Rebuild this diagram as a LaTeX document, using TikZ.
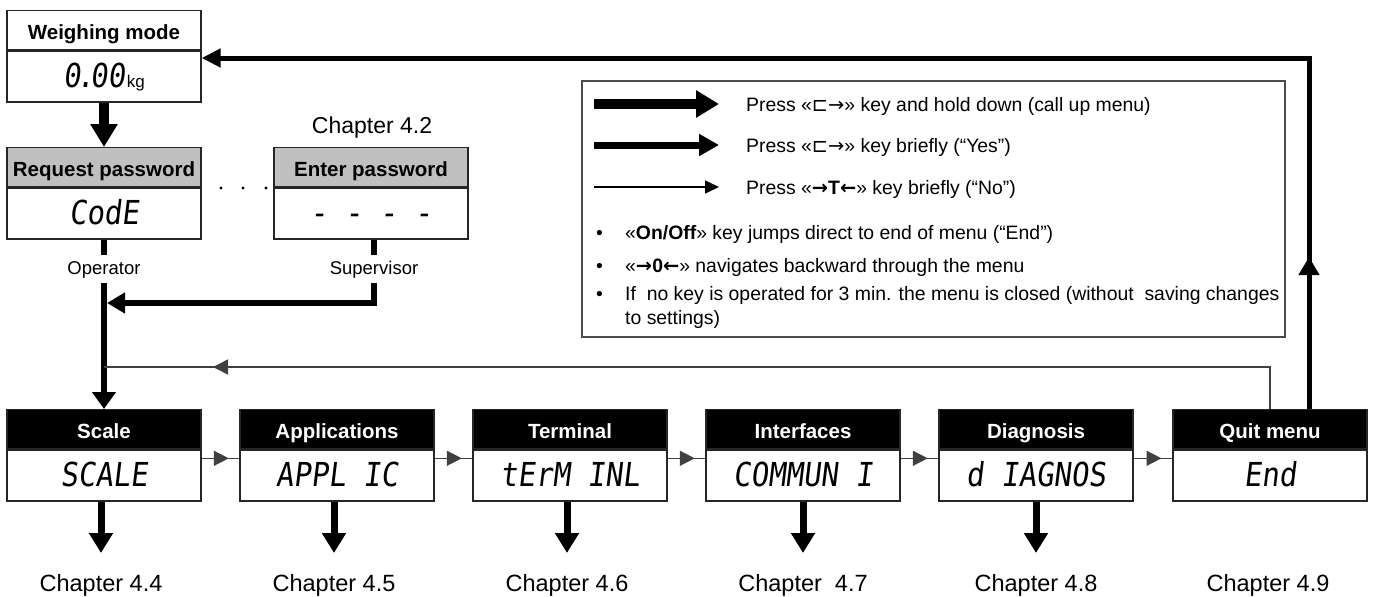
\documentclass[tikz,border=0pt]{standalone}
\usepackage{fontspec}
\setmainfont{Liberation Sans}
\newfontfamily\lcdfont[FakeStretch=0.88,FakeSlant=0.12]{DejaVu Sans Mono}
\newfontfamily\symfont{DejaVu Sans}
\usetikzlibrary{arrows.meta,decorations.markings,calc}
\definecolor{hdrgray}{HTML}{C0C0C0}
\definecolor{linegray}{HTML}{404040}
\tikzset{
 boxline/.style={draw=black!85,line width=1.3pt},
 hdr/.style={boxline,minimum width=194pt,minimum height=39pt,inner sep=0pt,text height=18pt,text depth=0pt,font=\fontsize{20.5}{24}\selectfont\bfseries},
 hdrwhite/.style={hdr,fill=white},
 hdrgrey/.style={hdr,fill=hdrgray},
 hdrblack/.style={hdr,fill=black,text=white},
 disp/.style={boxline,fill=white,minimum width=194pt,minimum height=51pt,inner sep=0pt,text height=23pt,text depth=0pt,font=\lcdfont\fontsize{33}{36}\selectfont},
 lbl/.style={inner xsep=0pt,inner ysep=5pt,text height=14pt,text depth=4pt,font=\fontsize{18.5}{22}\selectfont},
 chap/.style={inner xsep=0pt,inner ysep=21pt,text height=17pt,text depth=5pt,font=\fontsize{23.5}{28}\selectfont},
 heavyline/.style={line width=10.5pt,-{Triangle[length=23pt,width=26pt]}},
 medline/.style={line width=6pt},
 medarrow/.style={line width=6pt,-{Triangle[length=18pt,width=20pt]}},
 chaparrow/.style={line width=7pt,-{Triangle[length=20pt,width=23pt]}},
 thinline/.style={draw=linegray,line width=1.5pt},
 thinhead/.style={postaction={decorate},decoration={markings,mark=at position #1 with {\arrow[linegray]{Triangle[length=15pt,width=15pt]}}}},
 legendbox/.style={draw=black!70,line width=2.2pt,minimum width=703pt,minimum height=256pt,inner sep=0pt},
 legtext/.style={anchor=base west,inner sep=0pt,font=\fontsize{19.4}{23}\selectfont},
}
\begin{document}
\begin{tikzpicture}[x=1pt,y=-1pt]
\useasboundingbox (0,0) rectangle (1374,597);
% weighing mode
\node[hdrwhite,anchor=north] (wmH) at (104,10) {Weighing mode};
\node[disp,anchor=north] (wmD) at (wmH.south) {0{\kern-4pt}.{\kern-4pt}00\kern2pt{\normalfont\fontsize{17}{20}\selectfont kg}};
% password boxes
\node[hdrgrey,anchor=north] (rqH) at (104,147) {Request password};
\node[disp,anchor=north] (rqD) at (rqH.south) {CodE};
\node[hdrgrey,anchor=north] (enH) at (371,147) {Enter password};
\node[disp,anchor=north] (enD) at (enH.south) {- - - -};
\node[anchor=base,inner sep=0pt,font=\fontsize{23}{28}\selectfont] (ch42) at (372,133) {Chapter 4.2};
\fill (221,188) circle (1.6pt) (243,188) circle (1.6pt) (266,188) circle (1.6pt);
\node[lbl,anchor=north] (op) at (104,255) {Operator};
\node[lbl,anchor=north] (sup) at (374,255) {Supervisor};
% bottom boxes
\node[hdrblack,anchor=north] (scH) at (104,409) {Scale};
\node[disp,anchor=north] (scD) at (scH.south) {SCALE};
\node[hdrblack,anchor=north] (apH) at (337,409) {Applications};
\node[disp,anchor=north] (apD) at (apH.south) {APPL IC};
\node[hdrblack,anchor=north] (teH) at (570,409) {Terminal};
\node[disp,anchor=north] (teD) at (teH.south) {tErM INL};
\node[hdrblack,anchor=north] (inH) at (803,409) {Interfaces};
\node[disp,anchor=north] (inD) at (inH.south) {COMMUN I};
\node[hdrblack,anchor=north] (diH) at (1036,409) {Diagnosis};
\node[disp,anchor=north] (diD) at (diH.south) {d IAGNOS};
\node[hdrblack,anchor=north] (quH) at (1270,409) {Quit menu};
\node[disp,anchor=north] (quD) at (quH.south) {End};
% chapter labels
\node[chap,anchor=north] (c44) at (101,553) {Chapter 4.4};
\node[chap,anchor=north] (c45) at (334,553) {Chapter 4.5};
\node[chap,anchor=north] (c46) at (567,553) {Chapter 4.6};
\node[chap,anchor=north] (c47) at (803,553) {Chapter\ \ 4.7};
\node[chap,anchor=north] (c48) at (1036,553) {Chapter 4.8};
\node[chap,anchor=north] (c49) at (1268,553) {Chapter 4.9};
\foreach \a/\b in {scD/c44,apD/c45,teD/c46,inD/c47,diD/c48}
  \draw[chaparrow] (\a.south -| \b.north) -- (\b.north);
% horizontal thin connectors
\foreach \a/\b in {scD/apD,apD/teD,teD/inD,inD/diD,diD/quD}
  \draw[thinline,thinhead=0.72] ($(\a.north east)+(0,9)$) -- ($(\b.north west)+(0,9)$);
% top connectors
\draw[heavyline] (wmD.south) -- (rqH.north);
\draw[medline] (rqD.south) -- (op.north);
\draw[medline] (enD.south -| sup.north) -- (sup.north);
\draw[line width=6pt,-{Triangle[length=17pt,width=23pt]}] (op.south) -- (scH.north);
\coordinate (jy) at (0,303);
\draw[medarrow] (sup.south) -- (sup.south |- jy) -- ($(op.south |- jy)+(3,0)$);
% loop back (No)
\coordinate (loopY) at (0,367);
\draw[thinline,thinhead=1099pt] (quH.north) -- (quH.north |- loopY) -- (op.south |- loopY);
% quit to weighing mode
\coordinate (qTop) at ($(quH.north)+(39,0)$);
\coordinate (topY) at (0,58);
\draw[line width=5pt,-{Triangle[length=19pt,width=18pt]}] (qTop) -- (qTop |- topY) -- (wmD.east |- topY);
\draw[line width=5pt,-{Triangle[length=18pt,width=20pt]}] (qTop) -- ($(qTop)+(0,-152)$);
% legend
\node[legendbox] (legend) at (933.5,209) {};
\coordinate (l1a) at (594,104); \coordinate (l1b) at (719,104);
\coordinate (l2a) at (594,145); \coordinate (l2b) at (719,145);
\coordinate (l3a) at (594,187); \coordinate (l3b) at (719,187);
\draw[heavyline] (l1a) -- (l1b);
\draw[line width=7pt,-{Triangle[length=20pt,width=21pt]}] (l2a) -- (l2b);
\draw[line width=1.5pt,-{Triangle[length=14pt,width=13pt]}] (l3a) -- (l3b);
\node[legtext] (lt1) at (746,111) {Press «{\symfont ⊏→}» key and hold down (call up menu)};
\node[legtext] (lt2) at (746,152) {Press «{\symfont ⊏→}» key briefly (“Yes”)};
\node[legtext] (lt3) at (746,194) {Press «{\symfont\bfseries →}{\bfseries T}{\symfont\bfseries ←}» key briefly (“No”)};
\node[legtext] (bu1) at (596,239) {•};
\node[legtext] (lt4) at (625,239) {«{\bfseries On/Off}» key jumps direct to end of menu (“End”)};
\node[legtext] (bu2) at (596,272) {•};
\node[legtext] (lt5) at (625,272) {«{\symfont\bfseries →}{\bfseries 0}{\symfont\bfseries ←}» navigates backward through the menu};
\node[legtext] (bu3) at (596,300) {•};
\node[legtext] (lt6) at (625,300) {If\ \ no key is operated for 3 min. the menu is closed (without\ \ saving changes};
\node[legtext] (lt7) at (625,324) {to settings)};
\end{tikzpicture}
\end{document}
